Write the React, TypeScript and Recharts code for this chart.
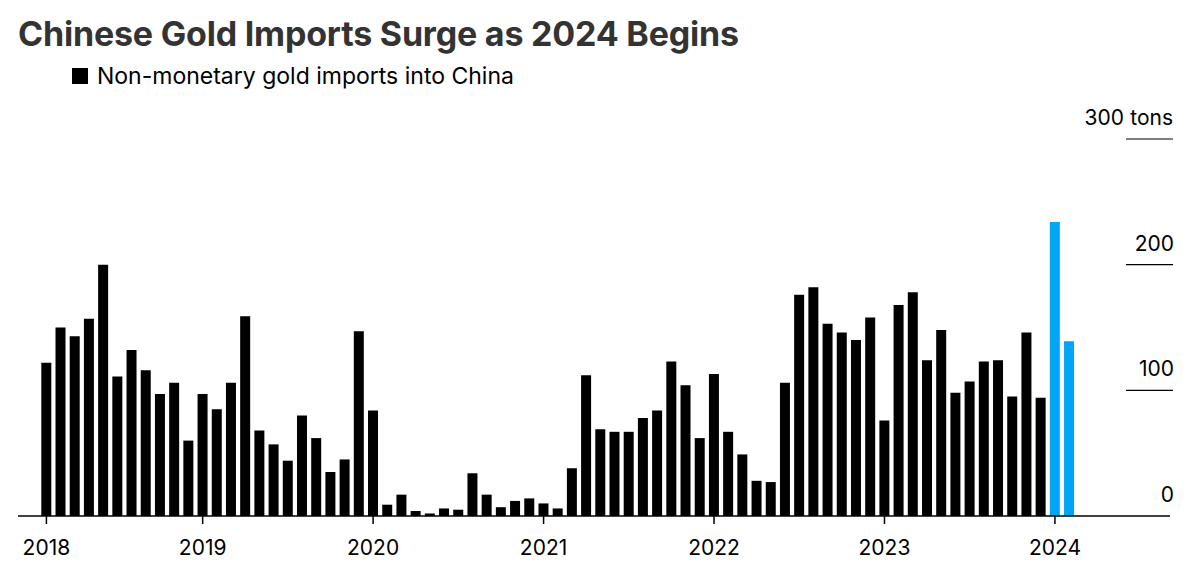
import React from "react";
import { BarChart, Bar, XAxis, YAxis, Cell } from "recharts";

const startYear = 2018;
const startMonth = 2; // first bar: Feb 2018
const imports = [
  122, 150, 143, 157, 200, 111, 132, 116, 97, 106, 60,
  97, 85, 106, 159, 68, 57, 44, 80, 62, 35, 45, 147,
  84, 9, 17, 4, 2, 6, 5, 34, 17, 7, 12, 14,
  10, 6, 38, 112, 69, 67, 67, 78, 84, 123, 104, 62,
  113, 67, 49, 28, 27, 106, 176, 182, 153, 146, 140, 158,
  76, 168, 178, 124, 148, 98, 107, 123, 124, 95, 146, 94,
  234, 139,
];
const highlightFrom = 71;
const xTickIdx = [0, 11, 23, 35, 47, 59, 71];
const xTickLabels = ["2018", "2019", "2020", "2021", "2022", "2023", "2024"];
const yTicks = [0, 100, 200, 300];

const data = imports.map((v, i) => ({
  idx: i,
  month: `${startYear + Math.floor((startMonth - 1 + i) / 12)}-${((startMonth - 1 + i) % 12) + 1}`,
  value: v,
}));

const FONT = "Inter, 'Liberation Sans', Arial, sans-serif";

const YTick = (props: any) => {
  const { y, payload } = props;
  const x = 1163;
  const v = payload.value;
  return (
    <g>
      {v !== 0 && <line x1={x - 45} x2={x + 2} y1={y} y2={y} stroke="#000" strokeWidth={1.2} />}
      {v === 300 ? (
        <>
          <text x={x - 47} y={y - 14} textAnchor="end" fontSize={21} fill="#000" fontFamily={FONT}>300</text>
          <text x={x + 2} y={y - 14} textAnchor="end" fontSize={21} fill="#000" fontFamily={FONT}>tons</text>
        </>
      ) : (
        <text x={x + 3} y={y - 14} textAnchor="end" fontSize={21} fill="#000" fontFamily={FONT}>{v}</text>
      )}
    </g>
  );
};

export default function App() {
  return (
    <div style={{ position: "relative", width: 1184, height: 560, fontFamily: FONT, background: "#fff" }}>
      <div style={{ position: "absolute", left: 10, top: 5, fontSize: 34, fontWeight: 700, color: "#333", letterSpacing: -0.2, whiteSpace: "nowrap" }}>
        Chinese Gold Imports Surge as 2024 Begins
      </div>
      <div style={{ position: "absolute", left: 64, top: 54, fontSize: 23, color: "#000", display: "flex", alignItems: "center", whiteSpace: "nowrap" }}>
        <span style={{ display: "inline-block", width: 16, height: 16, background: "#000", marginRight: 9 }} />
        Non-monetary gold imports into China
      </div>
      <div style={{ position: "absolute", left: 0, top: 0 }}>
        <BarChart width={1184} height={560} data={data} margin={{ top: 131, right: 21, bottom: 22, left: 10 }}>
          <XAxis
            dataKey="idx"
            type="number"
            domain={[-2, 79.1]}
            ticks={xTickIdx}
            tickFormatter={(v: number) => xTickLabels[xTickIdx.indexOf(v)] ?? ""}
            axisLine={{ stroke: "#000", strokeWidth: 1.5 }}
            tickLine={{ stroke: "#000", strokeWidth: 1.5 }}
            tickSize={8}
            tick={{ fontSize: 21, fill: "#000", fontFamily: FONT, dy: 14 }}
            height={30}
            interval={0}
            allowDataOverflow
          />
          <YAxis
            orientation="right"
            domain={[0, 300]}
            ticks={yTicks}
            width={1}
            axisLine={false}
            tickLine={false}
            tick={<YTick />}
            interval={0}
          />
          <Bar dataKey="value" barSize={10} isAnimationActive={false}>
            {data.map((d) => (
              <Cell key={d.idx} fill={d.idx >= highlightFrom ? "#00a5f5" : "#000"} />
            ))}
          </Bar>
        </BarChart>
      </div>
    </div>
  );
}
